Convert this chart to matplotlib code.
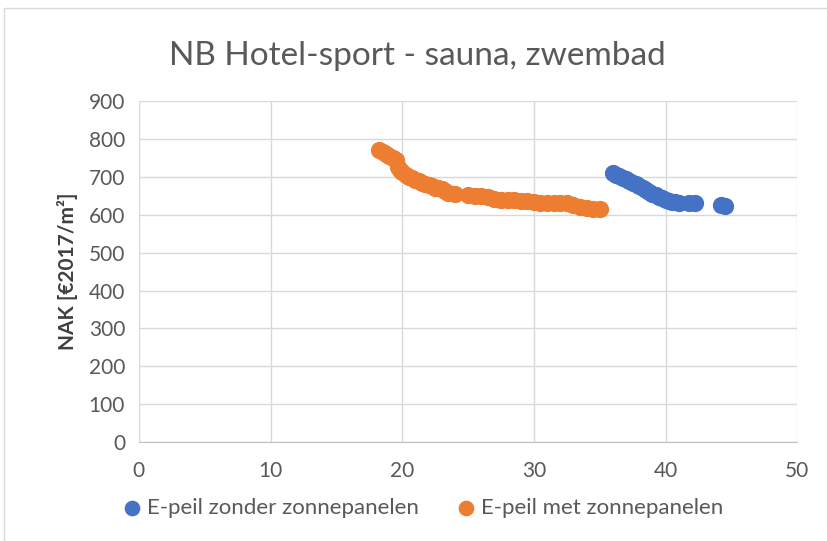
import matplotlib
matplotlib.use('Agg')
import matplotlib.pyplot as plt
from matplotlib.patches import Rectangle

plt.rcParams['font.family'] = ['Lato', 'DejaVu Sans']

# E-peil en NAK per variant
zonder_x = [36.0, 36.25, 36.5, 36.75, 37.0, 37.25, 37.5, 37.75, 38.0, 38.25, 38.5, 38.75,
            39.0, 39.25, 39.5, 39.75, 40.0, 40.25, 40.5, 40.75, 41.0, 41.8, 42.2, 44.2, 44.5]
zonder_y = [710, 706, 702, 698, 695, 690, 685, 680, 675, 670, 665, 660,
            655, 652, 648, 644, 640, 637, 635, 633, 632, 630, 630, 625, 623]

met_x = [18.2, 18.5, 18.8, 19.0, 19.3, 19.5, 19.7, 19.85, 20.0, 20.25, 20.5, 20.75, 21.0,
         21.25, 21.5, 21.75, 22.0, 22.25, 22.5, 22.75, 23.0, 23.25, 23.5, 24.0,
         25.0, 25.5, 26.0, 26.5, 27.0, 27.5, 28.0, 28.5, 29.0, 29.5, 30.0, 30.5, 31.0,
         31.5, 32.0, 32.5, 33.0, 33.5, 34.0, 34.5, 35.0]
met_y = [772, 765, 760, 755, 750, 745, 725, 718, 712, 706, 700, 696, 692,
         688, 685, 681, 678, 675, 672, 670, 668, 662, 658, 655,
         652, 650, 650, 648, 642, 640, 638, 638, 637, 636, 635, 632, 632,
         632, 630, 630, 625, 620, 617, 615, 615]

fig = plt.figure(figsize=(8.27, 5.41), dpi=100)
ax = fig.add_axes([0.168, 0.183, 0.796, 0.630])

# kaderlijn rond de grafiek
fig.patches.append(Rectangle((0.005, -0.01), 1.0, 0.995, transform=fig.transFigure,
                             fill=False, edgecolor='#d9d9d9', linewidth=1))

ax.scatter(zonder_x, zonder_y, s=130, color='#4472C4', label='E-peil zonder zonnepanelen', zorder=3)
ax.scatter(met_x, met_y, s=130, color='#ED7D31', label='E-peil met zonnepanelen', zorder=3)

ax.set_xlim(0, 50)
ax.set_ylim(0, 900)
ax.set_xticks(range(0, 51, 10))
ax.set_yticks(range(0, 901, 100))
ax.grid(True, color='#d9d9d9', linewidth=1)
ax.set_axisbelow(True)
for side in ['top', 'right', 'left']:
    ax.spines[side].set_visible(False)
ax.spines['bottom'].set_color('#bfbfbf')
ax.tick_params(length=0, labelsize=15, colors='#595959')
ax.tick_params(axis='x', pad=14)
ax.tick_params(axis='y', pad=10)

ax.set_ylabel('NAK [€2017/m²]', fontsize=15, fontweight='bold', color='#404040', labelpad=8)
fig.text(0.505, 0.897, 'NB Hotel-sport - sauna, zwembad', ha='center', va='center',
         fontsize=24, color='#595959')

ax.legend(loc='upper center', bbox_to_anchor=(0.43, -0.106), ncol=2, frameon=False,
          fontsize=16, labelcolor='#595959', handlelength=1.0, handletextpad=0.2,
          columnspacing=1.6, markerscale=0.9)

plt.savefig('out.png', dpi=100)
